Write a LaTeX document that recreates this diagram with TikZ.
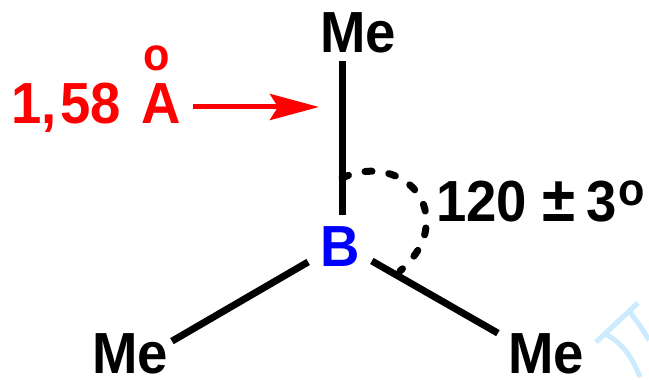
\documentclass[tikz,border=0pt]{standalone}
\usepackage{fontspec}
\setmainfont[FakeStretch=0.94]{Liberation Sans}
\usetikzlibrary{positioning,arrows.meta}
\definecolor{markblue}{HTML}{CCEBFF}

\begin{document}
\begin{tikzpicture}[x=1pt,y=1pt,
						atom/.style={inner sep=0pt,font=\fontsize{58}{58}\selectfont\bfseries},
						redtext/.style={atom,text=red},
						bond/.style={line width=7pt},
						arcdash/.style={line width=7pt,line cap=round,dash pattern=on 7pt off 17pt},
						redarrow/.style={red,line width=5pt,-{Stealth[length=49pt,width=26pt,inset=8pt]}},
						markstroke/.style={markblue,line width=5pt}]
		\useasboundingbox (0,0) rectangle (649,380);

		\fill[white] (0,0) rectangle (649,380);
		\draw[markstroke] (596,38) -- (638,77);
		\draw[markstroke] (607,45) .. controls (625,35) and (633,20) .. (640,3);
		\draw[markstroke] (630,68) .. controls (636,60) and (643,50) .. (649,40);

		\node[atom,text=blue]									(B)		at (340,133)	{B};
		\node[atom,node distance=174pt,above=of B,xshift=18pt]	(Me1)	{Me};
		\node[atom,node distance=66pt,below=of B,xshift=-210pt]	(Me2)	{Me};
		\node[atom,node distance=66pt,below=of B,xshift=206pt]	(Me3)	{Me};
		\node[atom,node distance=76pt,right=of B,yshift=46pt]	(angle)
			{120 {\fontsize{64}{64}\selectfont ±}\kern11pt3\kern2pt\raisebox{16pt}{\fontsize{46}{46}\selectfont o}};

		\node[redtext]											(dist)	at (96,272)		{1,\kern4pt 58\kern5pt\ A};
		\node[redtext,font=\fontsize{46}{46}\selectfont\bfseries,node distance=12pt,above=of dist,xshift=61pt]	(ring)	{o};

		\coordinate (arctop)	at (342,202);
		\coordinate (arcmid)	at (426,158);
		\coordinate (arcend)	at (400,109);
		\coordinate (tip)		at (319,273);

		\draw[bond] ([shift={(-16pt,-8pt)}]Me1.south) -- ([shift={(2pt,12pt)}]B.north);
		\draw[bond] ([shift={(-12pt,-15pt)}]B.west) -- ([shift={(42pt,-8pt)}]Me2.north);
		\draw[bond] ([shift={(12pt,-14pt)}]B.east) -- ([shift={(-10pt,0pt)}]Me3.north west);
		\draw[arcdash] (arctop) .. controls (385,222) and (428,195) .. (arcmid)
			.. controls (427,140) and (415,122) .. (arcend);
		\draw[redarrow] ([xshift=12pt,yshift=1pt]dist.east) -- (tip);
	\end{tikzpicture}
\end{document}
